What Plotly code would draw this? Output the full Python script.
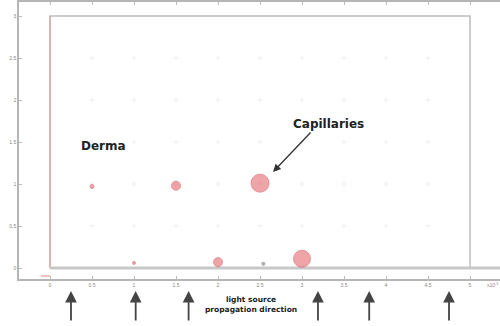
import plotly.graph_objects as go

# ---- data (units of 1e-3) ----
x_ticks = [0, 0.5, 1, 1.5, 2, 2.5, 3, 3.5, 4, 4.5, 5]
x_tick_labels = ["0", "0.5", "1", "1.5", "2", "2.5", "3", "3.5", "4", "4.5", "5"]
y_ticks = [0, 0.5, 1, 1.5, 2, 2.5, 3]
y_tick_labels = ["0", "0.5", "1", "1.5", "2", "2.5", "3"]

cap_x = [0.5, 1.5, 2.5, 1.0, 2.0, 3.0]
cap_y = [0.97, 0.98, 1.01, 0.06, 0.07, 0.11]
cap_d = [4, 9, 18, 3, 9, 17]

small_x = [2.54]
small_y = [0.05]

mesh_x = [0.5, 1, 1.5, 2, 2.5, 3, 3.5, 4, 4.5]
mesh_y = [0.5, 1, 1.5, 2, 2.5]

domain_x = [0, 5]
domain_y = [0, 3]

origin_mark_x = [-0.11, 0]
origin_mark_y = [-0.095, -0.095]

arrow_x = [0.25, 1.02, 1.65, 3.19, 3.80, 4.75]

fig = go.Figure()

# faint mesh marks
mx, my = [], []
for yy in mesh_y:
    for xx in mesh_x:
        mx.append(xx)
        my.append(yy)
fig.add_trace(go.Scatter(x=mx, y=my, mode="markers",
                         marker=dict(symbol="cross-thin", size=4,
                                     line=dict(color="rgba(215,215,215,0.35)", width=1)),
                         hoverinfo="skip", showlegend=False))

# domain rectangle
fig.add_trace(go.Scatter(x=[domain_x[0], domain_x[0], domain_x[1], domain_x[1]],
                         y=[domain_y[0], domain_y[1], domain_y[1], domain_y[0]],
                         mode="lines", line=dict(color="#bdbdbd", width=1.5),
                         hoverinfo="skip", showlegend=False))
fig.add_trace(go.Scatter(x=[domain_x[0], domain_x[0]], y=[domain_y[0], domain_y[1]],
                         mode="lines", line=dict(color="#dfa0a0", width=1),
                         hoverinfo="skip", showlegend=False))
fig.add_trace(go.Scatter(x=[domain_x[0], 5.4], y=[domain_y[0], domain_y[0]],
                         mode="lines", line=dict(color="#c8c8c8", width=3),
                         hoverinfo="skip", showlegend=False))
fig.add_trace(go.Scatter(x=origin_mark_x, y=origin_mark_y, mode="lines",
                         line=dict(color="#e08080", width=1),
                         hoverinfo="skip", showlegend=False))

# capillaries
fig.add_trace(go.Scatter(x=cap_x, y=cap_y, mode="markers",
                         marker=dict(size=cap_d, color="rgba(228,95,100,0.8)",
                                     line=dict(color="rgba(220,85,90,0.85)", width=1)),
                         hoverinfo="skip", showlegend=False))
fig.add_trace(go.Scatter(x=small_x, y=small_y, mode="markers",
                         marker=dict(size=4, color="rgba(140,140,140,0.7)"),
                         hoverinfo="skip", showlegend=False))

font_b = "DejaVu Sans"
font_t = "Liberation Sans"
ann = []
ann.append(dict(x=0.345, y=1.452, xref="x", yref="y", text="<b>Derma</b>", showarrow=False,
                xanchor="left", font=dict(family=font_b, size=12, color="#222")))
ann.append(dict(x=3.32, y=1.714, xref="x", yref="y", text="<b>Capillaries</b>", showarrow=False,
                font=dict(family=font_b, size=12, color="#222")))
ann.append(dict(x=2.655, y=1.143, xref="x", yref="y", text="", showarrow=True,
                ax=39, ay=-41, arrowhead=2, arrowsize=1.2, arrowwidth=1.3,
                arrowcolor="#333", standoff=0))
ann.append(dict(x=0.482, y=-0.092, xref="paper", yref="paper", yanchor="middle",
                text="<b>light source<br>propagation direction</b>", showarrow=False,
                font=dict(family=font_b, size=7.5, color="#222"), xanchor="center"))
ann.append(dict(x=1.0, y=-0.04, xref="paper", yref="paper", xanchor="right",
                text="x10<sup>-3</sup>", showarrow=False,
                font=dict(family=font_t, size=5, color="#888")))
for ax_ in arrow_x:
    ann.append(dict(x=ax_, y=-0.043, xref="x", yref="paper", text="", showarrow=True,
                    ax=0, ay=31, arrowhead=2, arrowsize=1.3, arrowwidth=1.8,
                    arrowcolor="#444", standoff=0))

fig.update_layout(
    width=500, height=326,
    margin=dict(l=19, r=0, t=2, b=47),
    paper_bgcolor="white", plot_bgcolor="white",
    showlegend=False,
    annotations=ann,
    xaxis=dict(range=[-0.369, 5.357], tickvals=x_ticks, ticktext=x_tick_labels,
               showgrid=False, zeroline=False, showline=True, linecolor="#b5b5b5",
               linewidth=1.5, mirror="ticks", ticks="inside", ticklen=3, tickcolor="#bbb",
               tickfont=dict(size=5, color="#888", family=font_t)),
    yaxis=dict(range=[-0.131, 3.167], tickvals=y_ticks, ticktext=y_tick_labels,
               showgrid=False, zeroline=False, showline=True, linecolor="#b5b5b5",
               linewidth=1.5, ticks="inside", ticklen=3, tickcolor="#bbb",
               tickfont=dict(size=5, color="#888", family=font_t)),
)

fig.write_html("out.html")
